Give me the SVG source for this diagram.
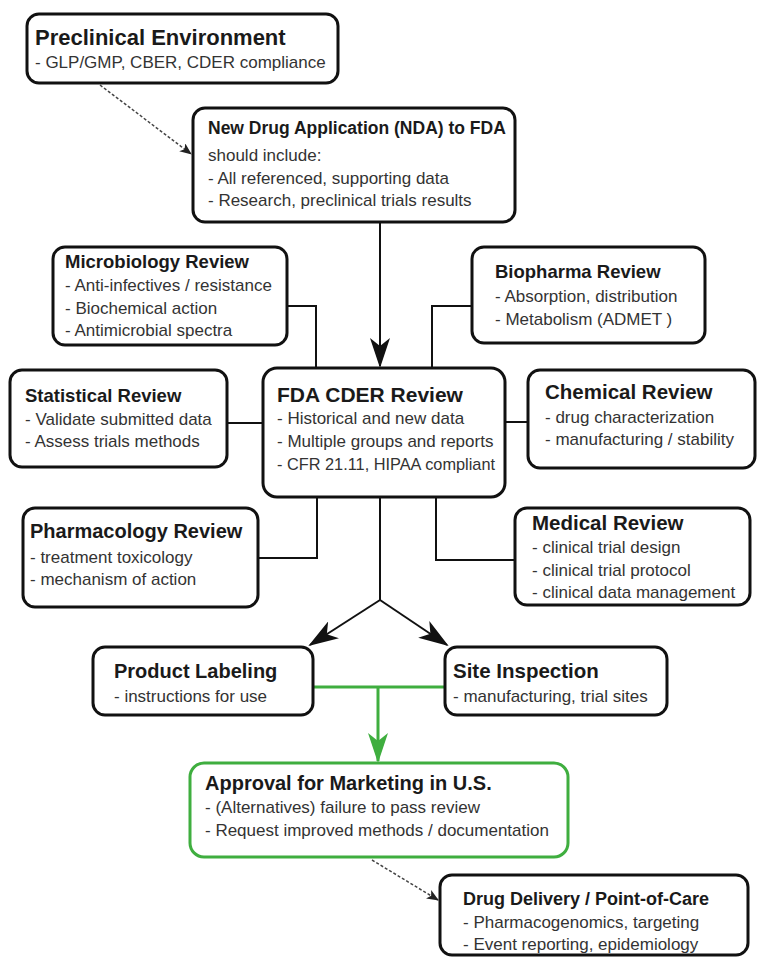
<svg xmlns="http://www.w3.org/2000/svg" width="758" height="961" viewBox="0 0 758 961">
<style>
.box{fill:#fff;stroke:#111;stroke-width:3}
.gbox{fill:#fff;stroke:#3fae3f;stroke-width:3}
text{font-family:"Liberation Sans",Arial,sans-serif}
.t{font-weight:bold;fill:#1a1a1a}
.b{font-size:17px;fill:#333}
.c{fill:none;stroke:#111;stroke-width:2}
.g{fill:none;stroke:#3fae3f;stroke-width:3}
.d{fill:none;stroke:#444;stroke-width:1.5;stroke-dasharray:3 2}
</style>
<defs>
<marker id="ab" markerUnits="userSpaceOnUse" viewBox="0 0 30 20" markerWidth="30" markerHeight="20" refX="28" refY="10" orient="auto">
<path d="M0,0 L30,10 L0,20 L8,10 z" fill="#111"/>
</marker>
<marker id="ag" markerUnits="userSpaceOnUse" viewBox="0 0 30 20" markerWidth="30" markerHeight="20" refX="28" refY="10" orient="auto">
<path d="M0,0 L30,10 L0,20 L8,10 z" fill="#3fae3f"/>
</marker>
<marker id="as" markerUnits="userSpaceOnUse" viewBox="0 0 12 10" markerWidth="12" markerHeight="10" refX="11" refY="5" orient="auto">
<path d="M0,0 L12,5 L0,10 L3,5 z" fill="#222"/>
</marker>
</defs>

<g id="connectors">
<path class="d" d="M100,85 L191,154" marker-end="url(#as)"/>
<path class="c" d="M380,223 L380,366" marker-end="url(#ab)"/>
<path class="c" d="M287,306 L316,306 L316,368"/>
<path class="c" d="M472,306 L432,306 L432,368"/>
<path class="c" d="M227,423 L263,423"/>
<path class="c" d="M505,422 L528,422"/>
<path class="c" d="M258,558 L317,558 L317,497"/>
<path class="c" d="M515,560 L436,560 L436,497"/>
<path class="c" d="M380,497 L380,600"/>
<path class="c" d="M380,600 L310,645" marker-end="url(#ab)"/>
<path class="c" d="M380,600 L447,645" marker-end="url(#ab)"/>
<path class="g" d="M313,687 L445,687"/>
<path class="g" d="M378,687 L378,761" marker-end="url(#ag)"/>
<path class="d" d="M372,860 L438,900" marker-end="url(#as)"/>
</g>

<g id="preclinical">
<rect class="box" x="27" y="14" width="311" height="69" rx="12"/>
<text class="t" x="35" y="45" font-size="22">Preclinical Environment</text>
<text class="b" x="35" y="68" font-size="16.5">- GLP/GMP, CBER, CDER compliance</text>
</g>

<g id="nda">
<rect class="box" x="193" y="108" width="322" height="114" rx="12"/>
<text class="t" x="208" y="134" font-size="17.5">New Drug Application (NDA) to FDA</text>
<text class="b" x="208" y="161">should include:</text>
<text class="b" x="208" y="184">- All referenced, supporting data</text>
<text class="b" x="208" y="206">- Research, preclinical trials results</text>
</g>

<g id="microbiology">
<rect class="box" x="53" y="247" width="234" height="98" rx="12"/>
<text class="t" x="65" y="268" font-size="18.5">Microbiology Review</text>
<text class="b" x="65" y="291">- Anti-infectives / resistance</text>
<text class="b" x="65" y="314">- Biochemical action</text>
<text class="b" x="65" y="336">- Antimicrobial spectra</text>
</g>

<g id="biopharma">
<rect class="box" x="472" y="247" width="233" height="96" rx="12"/>
<text class="t" x="495" y="278" font-size="18.5">Biopharma Review</text>
<text class="b" x="495" y="302">- Absorption, distribution</text>
<text class="b" x="495" y="325">- Metabolism (ADMET )</text>
</g>

<g id="statistical">
<rect class="box" x="10" y="370" width="217" height="97" rx="12"/>
<text class="t" x="25" y="402" font-size="18.5">Statistical Review</text>
<text class="b" x="25" y="425">- Validate submitted data</text>
<text class="b" x="25" y="447">- Assess trials methods</text>
</g>

<g id="fda-cder">
<rect class="box" x="263" y="368" width="242" height="129" rx="14"/>
<text class="t" x="277" y="402" font-size="21">FDA CDER Review</text>
<text class="b" x="277" y="424" font-size="16.5">- Historical and new data</text>
<text class="b" x="277" y="447" font-size="16.5">- Multiple groups and reports</text>
<text class="b" x="277" y="470" font-size="16.5" textLength="218" lengthAdjust="spacingAndGlyphs">- CFR 21.11, HIPAA compliant</text>
</g>

<g id="chemical">
<rect class="box" x="528" y="370" width="227" height="98" rx="12"/>
<text class="t" x="545" y="399" font-size="20.5">Chemical Review</text>
<text class="b" x="545" y="423">- drug characterization</text>
<text class="b" x="545" y="445">- manufacturing / stability</text>
</g>

<g id="pharmacology">
<rect class="box" x="23" y="508" width="235" height="99" rx="12"/>
<text class="t" x="30" y="538" font-size="20">Pharmacology Review</text>
<text class="b" x="30" y="563">- treatment toxicology</text>
<text class="b" x="30" y="585">- mechanism of action</text>
</g>

<g id="medical">
<rect class="box" x="515" y="508" width="235" height="97" rx="12"/>
<text class="t" x="532" y="530" font-size="20.5">Medical Review</text>
<text class="b" x="532" y="553">- clinical trial design</text>
<text class="b" x="532" y="576">- clinical trial protocol</text>
<text class="b" x="532" y="598">- clinical data management</text>
</g>

<g id="product-labeling">
<rect class="box" x="93" y="647" width="220" height="68" rx="12"/>
<text class="t" x="114" y="678" font-size="20">Product Labeling</text>
<text class="b" x="114" y="702">- instructions for use</text>
</g>

<g id="site-inspection">
<rect class="box" x="445" y="647" width="222" height="68" rx="12"/>
<text class="t" x="453" y="678" font-size="20.5">Site Inspection</text>
<text class="b" x="453" y="702">- manufacturing, trial sites</text>
</g>

<g id="approval">
<rect class="gbox" x="190" y="763" width="378" height="94" rx="14"/>
<text class="t" x="205" y="790" font-size="20">Approval for Marketing in U.S.</text>
<text class="b" x="205" y="813">- (Alternatives) failure to pass review</text>
<text class="b" x="205" y="836">- Request improved methods / documentation</text>
</g>

<g id="drug-delivery">
<rect class="box" x="440" y="875" width="308" height="80" rx="12"/>
<text class="t" x="463" y="905" font-size="18">Drug Delivery / Point-of-Care</text>
<text class="b" x="463" y="928">- Pharmacogenomics, targeting</text>
<text class="b" x="463" y="950">- Event reporting, epidemiology</text>
</g>
</svg>
